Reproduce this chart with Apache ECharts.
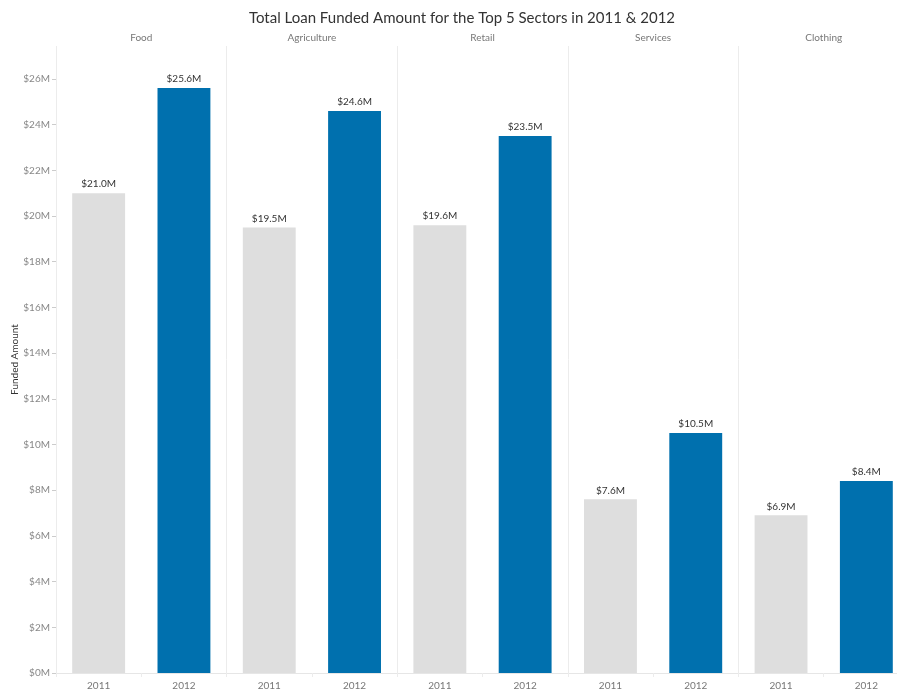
<!DOCTYPE html>
<html><head><meta charset="utf-8">
<script src="https://cdn.jsdelivr.net/npm/echarts@6/dist/echarts.min.js"></script>
<style>html,body{margin:0;padding:0;background:#fff}#c{width:897px;height:693px}</style>
</head><body><div id="c"></div>
<script>
var sectors = ['Food', 'Agriculture', 'Retail', 'Services', 'Clothing'];
var years = ['2011', '2012'];
var values2011 = [21.0, 19.5, 19.6, 7.6, 6.9];
var values2012 = [25.6, 24.6, 23.5, 10.5, 8.4];
var yTicks = [0, 2, 4, 6, 8, 10, 12, 14, 16, 18, 20, 22, 24, 26];

var colors = {'2011': '#dedede', '2012': '#0070ae'};
var cats = [], data = [];
sectors.forEach(function (s, i) {
  cats.push(years[0]); data.push({value: values2011[i], itemStyle: {color: colors['2011']}});
  cats.push(years[1]); data.push({value: values2012[i], itemStyle: {color: colors['2012']}});
});

var font = 'Lato, "Open Sans", sans-serif';
var chart = echarts.init(document.getElementById('c'), null, {renderer: 'canvas'});
chart.setOption({
  animation: false,
  title: {
    text: 'Total Loan Funded Amount for the Top 5 Sectors in 2011 & 2012',
    left: 457, top: 6, textAlign: 'center',
    textStyle: {fontSize: 15, fontWeight: 'normal', color: '#333', fontFamily: font}
  },
  grid: {left: 56, top: 46, width: 853, bottom: 20, containLabel: false, outerBoundsMode: 'none'},
  xAxis: [{
    type: 'category', data: cats, position: 'bottom',
    axisLine: {show: true, lineStyle: {color: '#e6e6e6'}},
    axisTick: {show: true, length: 4, lineStyle: {color: '#ececec'}},
    axisLabel: {color: '#777', fontSize: 10, margin: 8, fontFamily: font},
    splitLine: {show: false}
  }, {
    type: 'category', data: sectors, position: 'top',
    axisLine: {show: false}, axisTick: {show: false},
    axisLabel: {color: '#777', fontSize: 10, margin: 3, fontFamily: font},
    splitLine: {show: true, lineStyle: {color: '#ececec', width: 1}}
  }],
  yAxis: {
    type: 'value', min: 0, max: 27.44,
    name: 'Funded Amount', nameLocation: 'middle', nameGap: 36, nameRotate: 90, nameMoveOverlap: false,
    nameTextStyle: {color: '#333', fontSize: 10, fontFamily: font},
    axisLine: {show: false},
    axisTick: {show: true, length: 4, customValues: yTicks, lineStyle: {color: '#ccc'}},
    axisLabel: {customValues: yTicks, color: '#888', fontSize: 10, margin: 6, fontFamily: font,
      formatter: function (v) { return '$' + v + 'M'; }},
    splitLine: {show: false}
  },
  series: [{
    type: 'bar', xAxisIndex: 0, data: data, barWidth: '62%',
    label: {show: true, position: 'top', distance: 4, color: '#333', fontSize: 10, fontFamily: font,
      formatter: function (p) { return '$' + p.value.toFixed(1) + 'M'; }}
  }]
});
</script></body></html>
